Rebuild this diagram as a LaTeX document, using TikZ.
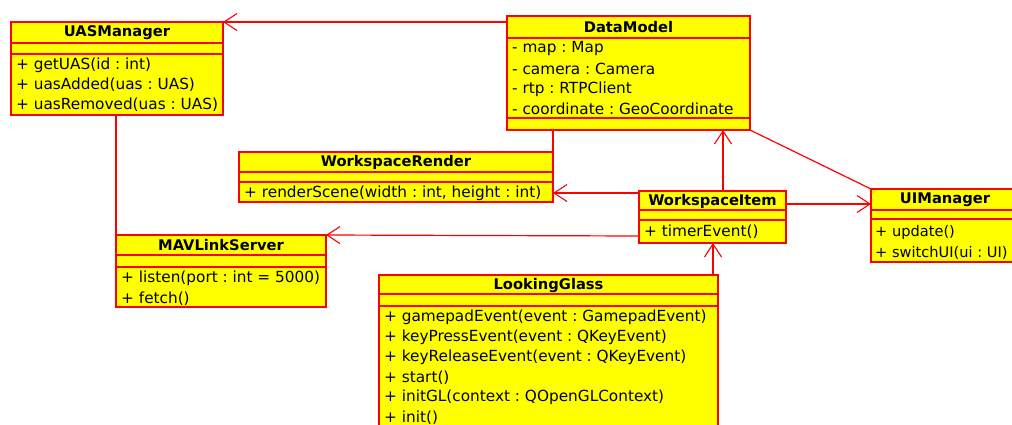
\documentclass[tikz,border=0pt]{standalone}
\usepackage{fontspec}
\setmainfont{DejaVu Sans}
\usetikzlibrary{arrows.meta}
\definecolor{umlred}{RGB}{255,0,0}
\definecolor{umlfill}{RGB}{255,255,0}
\tikzset{
  classbox/.style={draw=umlred, fill=umlfill, line width=1.4pt, anchor=north west, inner sep=0pt, outer sep=0pt},
  sep/.style={draw=umlred, line width=1.4pt},
  ttl/.style={inner sep=0pt, font=\bfseries\fontsize{14.7}{16}\selectfont},
  member/.style={anchor=west, inner sep=0pt, font=\fontsize{15.3}{17}\selectfont},
  narrow/.style={font=\fontsize{14.6}{17}\selectfont},
  link/.style={draw=umlred, line width=1.2pt},
  assoc/.style={link, -{Straight Barb[length=13pt,width=17pt,line width=1.1pt]}},
}
\frenchspacing
\begin{document}
\begin{tikzpicture}[x=1pt,y=-1pt]
\useasboundingbox (0,0) rectangle (1012,424);
\clip (0,0) rectangle (1012,424);

% ---- UASManager
\node[classbox, minimum width=212pt, minimum height=93pt] (uas) at (11,22) {};
\draw[sep] (11,43) -- (223,43) (11,54) -- (223,54);
\node[ttl] (uasT) at (117,33) {UASManager};
\node[member] (uas1) at (16,65) {+ getUAS(id : int)};
\node[member] (uas2) at (16,85) {+ uasAdded(uas : UAS)};
\node[member] (uas3) at (16,105) {+ uasRemoved(uas : UAS)};

% ---- DataModel
\node[classbox, minimum width=243pt, minimum height=114pt] (dm) at (507,16) {};
\draw[sep] (507,38) -- (750,38) (507,118) -- (750,118);
\node[ttl] (dmT) at (628.5,27.5) {DataModel};
\node[member] (dm1) at (512,49) {- map : Map};
\node[member] (dm2) at (512,69) {- camera : Camera};
\node[member] (dm3) at (512,89) {- rtp : RTPClient};
\node[member] (dm4) at (512,109) {- coordinate : GeoCoordinate};

% ---- WorkspaceRender
\node[classbox, minimum width=314pt, minimum height=50pt] (wr) at (239,152) {};
\draw[sep] (239,172) -- (553,172) (239,182) -- (553,182);
\node[ttl] (wrT) at (396,162.5) {WorkspaceRender};
\node[member] (wr1) at (244,193) {+ renderScene(width : int, height : int)};

% ---- WorkspaceItem
\node[classbox, minimum width=147pt, minimum height=52pt] (wi) at (639,191) {};
\draw[sep] (639,210) -- (786,210) (639,220) -- (786,220);
\node[ttl] (wiT) at (712.5,201) {WorkspaceItem};
\node[member] (wi1) at (644,232) {+ timerEvent()};

% ---- UIManager (runs past the right edge)
\node[classbox, minimum width=148pt, minimum height=73pt] (uim) at (871,189) {};
\draw[sep] (871,210) -- (1019,210) (871,219) -- (1019,219);
\node[ttl] (uimT) at (945,200) {UIManager};
\node[member, narrow] (uim1) at (875,232.5) {+ update()};
\node[member, narrow] (uim2) at (875,252.5) {+ switchUI(ui : UI)};

% ---- MAVLinkServer
\node[classbox, minimum width=210pt, minimum height=72pt] (mav) at (116,235) {};
\draw[sep] (116,255) -- (326,255) (116,267) -- (326,267);
\node[ttl] (mavT) at (221,245.5) {MAVLinkServer};
\node[member] (mav1) at (121,278.5) {+ listen(port : int = 5000)};
\node[member] (mav2) at (121,298.5) {+ fetch()};

% ---- LookingGlass (runs past the bottom edge)
\node[classbox, minimum width=339pt, minimum height=170pt] (lg) at (379,275) {};
\draw[sep] (379,294) -- (718,294) (379,306) -- (718,306);
\node[ttl] (lgT) at (548.5,285) {LookingGlass};
\node[member] (lg1) at (384,317.5) {+ gamepadEvent(event : GamepadEvent)};
\node[member] (lg2) at (384,337.5) {+ keyPressEvent(event : QKeyEvent)};
\node[member] (lg3) at (384,357.5) {+ keyReleaseEvent(event : QKeyEvent)};
\node[member] (lg4) at (384,377.5) {+ start()};
\node[member] (lg5) at (384,397.5) {+ initGL(context : QOpenGLContext)};
\node[member] (lg6) at (384,417.5) {+ init()};

% ---- connectors
\draw[assoc] (dm.west |- 0,22) -- (uas.north east);
\draw[link] (dm.south -| wr.north east) -- (wr.north east);
\draw[link] (dm.south east) -- (uim.north west);
\draw[link] (uas.south -| mav.north west) -- (mav.north west);
\draw[assoc] (wi.west |- 0,193) -- (wr.east |- 0,193);
\draw[assoc] (wi.north -| 723,0) -- (dm.south -| 723,0);
\draw[assoc] (wi.east |- 0,204) -- (uim.west |- 0,204);
\draw[assoc] (wi.west |- 0,236) -- (mav.north east);
\draw[assoc] (lg.north -| 713,0) -- (wi.south -| 713,0);
\end{tikzpicture}
\end{document}
